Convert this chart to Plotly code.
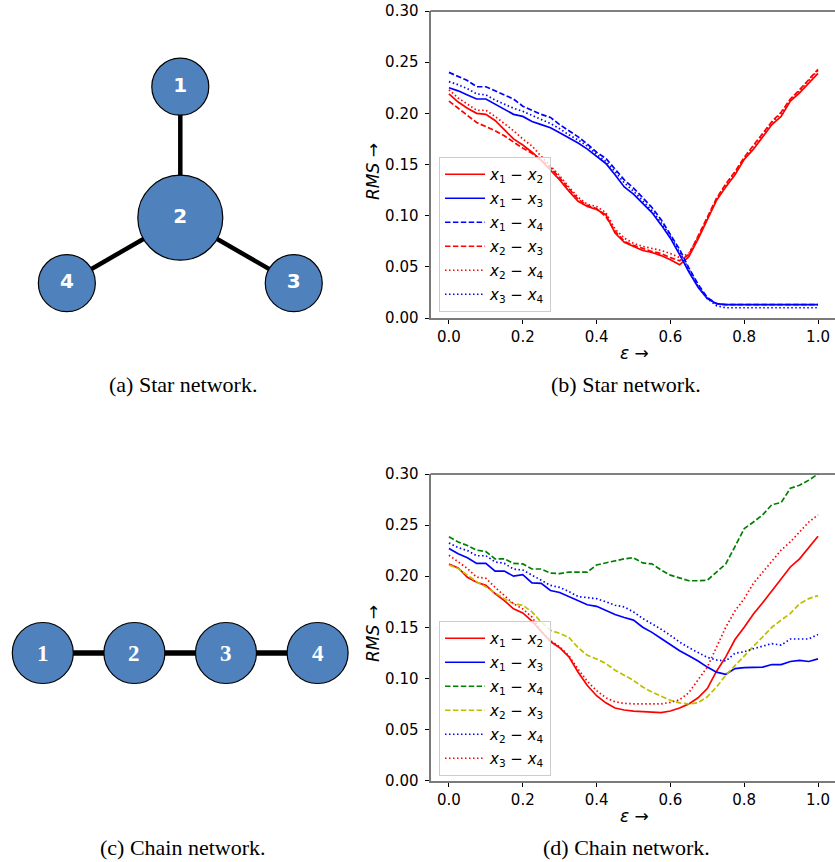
import plotly.graph_objects as go

W, H = 835, 862

eps = [0.0, 0.025, 0.05, 0.075, 0.1, 0.125, 0.15, 0.175, 0.2, 0.225, 0.25, 0.275, 0.3,
       0.325, 0.35, 0.375, 0.4, 0.425, 0.45, 0.475, 0.5, 0.525, 0.55, 0.575, 0.6, 0.625,
       0.65, 0.675, 0.7, 0.725, 0.75, 0.775, 0.8, 0.825, 0.85, 0.875, 0.9, 0.925, 0.95,
       0.975, 1.0]

# (b) Star network
s_x1x2 = [0.219, 0.211, 0.205, 0.200, 0.199, 0.193, 0.184, 0.175, 0.169, 0.162, 0.154, 0.145, 0.135,
          0.124, 0.114, 0.109, 0.106, 0.101, 0.083, 0.074, 0.070, 0.066, 0.064, 0.061, 0.057, 0.052,
          0.060, 0.077, 0.096, 0.115, 0.128, 0.140, 0.155, 0.165, 0.177, 0.189, 0.197, 0.212, 0.220,
          0.229, 0.239]
s_x1x3 = [0.225, 0.222, 0.218, 0.214, 0.214, 0.209, 0.204, 0.199, 0.197, 0.192, 0.189, 0.186, 0.181,
          0.176, 0.171, 0.165, 0.158, 0.151, 0.140, 0.128, 0.121, 0.112, 0.103, 0.091, 0.078, 0.062,
          0.045, 0.030, 0.019, 0.014, 0.013, 0.013, 0.013, 0.013, 0.013, 0.013, 0.013, 0.013, 0.013,
          0.013, 0.013]
s_x1x4 = [0.240, 0.236, 0.232, 0.226, 0.226, 0.222, 0.218, 0.214, 0.207, 0.203, 0.199, 0.196, 0.189,
          0.183, 0.177, 0.170, 0.162, 0.156, 0.146, 0.135, 0.127, 0.117, 0.108, 0.096, 0.082, 0.067,
          0.049, 0.033, 0.020, 0.014, 0.013, 0.013, 0.013, 0.013, 0.013, 0.013, 0.013, 0.013, 0.013,
          0.013, 0.013]
s_x2x3 = [0.212, 0.205, 0.198, 0.191, 0.187, 0.183, 0.178, 0.172, 0.166, 0.161, 0.154, 0.147, 0.137,
          0.126, 0.116, 0.110, 0.107, 0.099, 0.085, 0.075, 0.071, 0.068, 0.065, 0.063, 0.059, 0.056,
          0.062, 0.080, 0.098, 0.117, 0.131, 0.143, 0.157, 0.169, 0.181, 0.192, 0.201, 0.214, 0.223,
          0.233, 0.243]
s_x2x4 = [0.223, 0.215, 0.209, 0.203, 0.203, 0.197, 0.190, 0.183, 0.175, 0.168, 0.158, 0.149, 0.139,
          0.128, 0.118, 0.111, 0.109, 0.103, 0.087, 0.078, 0.073, 0.070, 0.068, 0.066, 0.063, 0.059,
          0.063, 0.079, 0.097, 0.116, 0.130, 0.142, 0.156, 0.168, 0.180, 0.191, 0.200, 0.213, 0.222,
          0.232, 0.242]
s_x3x4 = [0.231, 0.228, 0.224, 0.219, 0.218, 0.213, 0.209, 0.205, 0.202, 0.198, 0.194, 0.190, 0.185,
          0.179, 0.174, 0.168, 0.160, 0.153, 0.143, 0.132, 0.124, 0.114, 0.105, 0.093, 0.080, 0.064,
          0.047, 0.031, 0.019, 0.012, 0.010, 0.010, 0.010, 0.010, 0.010, 0.010, 0.010, 0.010, 0.010,
          0.010, 0.010]

# (d) Chain network
c_x1x2 = [0.212, 0.208, 0.199, 0.194, 0.191, 0.183, 0.176, 0.168, 0.164, 0.156, 0.146, 0.136, 0.130,
          0.121, 0.106, 0.093, 0.083, 0.076, 0.071, 0.069, 0.068, 0.0675, 0.067, 0.0665, 0.068, 0.071,
          0.075, 0.081, 0.090, 0.107, 0.121, 0.138, 0.150, 0.163, 0.174, 0.186, 0.198, 0.209, 0.217,
          0.228, 0.239]
c_x1x3 = [0.227, 0.222, 0.218, 0.2125, 0.2125, 0.205, 0.205, 0.200, 0.2015, 0.1935, 0.193, 0.186, 0.184,
          0.180, 0.176, 0.172, 0.1705, 0.1665, 0.1625, 0.1595, 0.157, 0.150, 0.145, 0.139, 0.133, 0.127,
          0.122, 0.117, 0.111, 0.106, 0.104, 0.1095, 0.1105, 0.1105, 0.111, 0.1135, 0.1135, 0.1165,
          0.1175, 0.1165, 0.119]
c_x1x4 = [0.2385, 0.2335, 0.230, 0.2255, 0.224, 0.217, 0.217, 0.2125, 0.212, 0.207, 0.207, 0.203, 0.2025,
          0.204, 0.204, 0.204, 0.211, 0.213, 0.215, 0.217, 0.218, 0.213, 0.212, 0.206, 0.201, 0.198,
          0.1955, 0.1955, 0.196, 0.204, 0.212, 0.229, 0.2465, 0.253, 0.260, 0.270, 0.272, 0.286, 0.289,
          0.294, 0.300]
c_x2x3 = [0.211, 0.2075, 0.201, 0.1945, 0.1895, 0.1835, 0.178, 0.173, 0.1715, 0.165, 0.155, 0.147, 0.144,
          0.140, 0.130, 0.1225, 0.119, 0.1145, 0.108, 0.103, 0.098, 0.0915, 0.0865, 0.0825, 0.0785, 0.076,
          0.075, 0.076, 0.082, 0.0915, 0.103, 0.1125, 0.122, 0.1305, 0.140, 0.150, 0.157, 0.1635, 0.173,
          0.178, 0.181]
c_x2x4 = [0.2325, 0.228, 0.225, 0.220, 0.220, 0.214, 0.2125, 0.207, 0.206, 0.201, 0.196, 0.191, 0.189,
          0.185, 0.180, 0.179, 0.178, 0.175, 0.1715, 0.170, 0.165, 0.1585, 0.1535, 0.148, 0.142, 0.1355,
          0.130, 0.125, 0.1205, 0.118, 0.117, 0.1245, 0.126, 0.129, 0.1315, 0.134, 0.1325, 0.1385, 0.1385,
          0.1385, 0.143]
c_x3x4 = [0.2205, 0.214, 0.2075, 0.199, 0.198, 0.189, 0.181, 0.173, 0.168, 0.160, 0.146, 0.137, 0.131,
          0.122, 0.109, 0.097, 0.088, 0.081, 0.077, 0.0755, 0.075, 0.075, 0.0745, 0.075, 0.0765, 0.079,
          0.086, 0.099, 0.111, 0.1305, 0.150, 0.166, 0.178, 0.193, 0.204, 0.2155, 0.2255, 0.2335, 0.2435,
          0.253, 0.260]

pair_labels = ["x1-x2", "x1-x3", "x1-x4", "x2-x3", "x2-x4", "x3-x4"]
x_ticks = [0.0, 0.2, 0.4, 0.6, 0.8, 1.0]
x_ticktext = ["0.0", "0.2", "0.4", "0.6", "0.8", "1.0"]
y_ticks = [0.0, 0.05, 0.10, 0.15, 0.20, 0.25, 0.30]
y_ticktext = ["0.00", "0.05", "0.10", "0.15", "0.20", "0.25", "0.30"]

# network diagrams (layout coordinates of nodes)
star_nodes = ["1", "2", "3", "4"]
star_x = [0.0, 0.0, 0.866, -0.866]
star_y = [1.0, 0.0, -0.5, -0.5]
star_size = [57, 85, 57, 57]
star_edges = [(0, 1), (1, 2), (1, 3)]

chain_nodes = ["1", "2", "3", "4"]
chain_x = [0.0, 1.0, 2.0, 3.0]
chain_y = [0.0, 0.0, 0.0, 0.0]
chain_edges = [(0, 1), (1, 2), (2, 3)]

RED, BLUE, GREEN, YEL = "#ff0000", "#0000ff", "#008000", "#bfbf00"
DASH = "5.5px,2.4px"
DOT = "1.5px,2.5px"
LW = 1.7


def lab(s):
    a, b = s.split("-")
    return "<i>x</i><sub>%s</sub> − <i>x</i><sub>%s</sub>" % (a[1], b[1])


fig = go.Figure()

star_series = [s_x1x2, s_x1x3, s_x1x4, s_x2x3, s_x2x4, s_x3x4]
star_style = [(RED, "solid"), (BLUE, "solid"), (BLUE, DASH), (RED, DASH), (RED, DOT), (BLUE, DOT)]
for name, ys, (c, d) in zip(pair_labels, star_series, star_style):
    fig.add_trace(go.Scatter(x=eps, y=ys, mode="lines", name=lab(name), legend="legend",
                             line=dict(color=c, width=LW, dash=d), xaxis="x", yaxis="y",
                             legendgroup="s" + name))

chain_series = [c_x1x2, c_x1x3, c_x1x4, c_x2x3, c_x2x4, c_x3x4]
chain_style = [(RED, "solid"), (BLUE, "solid"), (GREEN, DASH), (YEL, DASH), (BLUE, DOT), (RED, DOT)]
for name, ys, (c, d) in zip(pair_labels, chain_series, chain_style):
    fig.add_trace(go.Scatter(x=eps, y=ys, mode="lines", name=lab(name), legend="legend2",
                             line=dict(color=c, width=LW, dash=d), xaxis="x2", yaxis="y2",
                             legendgroup="c" + name))

NODE = "#4f81bd"
# star edges and nodes
for a, b in star_edges:
    fig.add_trace(go.Scatter(x=[star_x[a], star_x[b]], y=[star_y[a], star_y[b]], mode="lines",
                             line=dict(color="black", width=4.5), showlegend=False,
                             xaxis="x3", yaxis="y3", hoverinfo="skip"))
fig.add_trace(go.Scatter(x=star_x, y=star_y, mode="markers+text",
                         text=["<b>%s</b>" % n for n in star_nodes],
                         textposition="middle center",
                         textfont=dict(family="DejaVu Sans", size=20, color="white"),
                         marker=dict(size=star_size, color=NODE, opacity=1,
                                     line=dict(color="black", width=1.2)),
                         showlegend=False, xaxis="x3", yaxis="y3", cliponaxis=False))
# chain edges and nodes
for a, b in chain_edges:
    fig.add_trace(go.Scatter(x=[chain_x[a], chain_x[b]], y=[chain_y[a], chain_y[b]], mode="lines",
                             line=dict(color="black", width=5.5), showlegend=False,
                             xaxis="x4", yaxis="y4", hoverinfo="skip"))
fig.add_trace(go.Scatter(x=chain_x, y=chain_y, mode="markers",
                         marker=dict(size=61, color=NODE, opacity=1, line=dict(color="black", width=1.2)),
                         showlegend=False, xaxis="x4", yaxis="y4", cliponaxis=False))
for n, cx, cy in zip(chain_nodes, chain_x, chain_y):
    fig.add_annotation(x=cx, y=cy, xref="x4", yref="y4", text="<b>%s</b>" % n, showarrow=False,
                       font=dict(family="Liberation Serif", size=23, color="white"),
                       xanchor="center", yanchor="middle")


def px_x(p):
    return p / W


def px_y(p):
    return 1 - p / H


tickfont = dict(family="DejaVu Sans", size=15, color="black")
common_x = dict(range=[-0.05, 1.046], tickvals=x_ticks, ticktext=x_ticktext, ticks="outside",
                ticklen=4, tickcolor="black", showline=True, linecolor="#7a7a7a", linewidth=2,
                showgrid=False, zeroline=False, tickfont=tickfont, domain=[px_x(430.5), 1.0],
                automargin=False)
common_y = dict(range=[0, 0.30], tickvals=y_ticks, ticktext=y_ticktext, ticks="outside",
                ticklen=4, tickcolor="black", showline=True, linecolor="#7a7a7a", linewidth=2,
                showgrid=False, zeroline=False, tickfont=tickfont, ticklabelstandoff=3,
                automargin=False)

hidden = dict(visible=False, showgrid=False, zeroline=False, fixedrange=True, automargin=False)

legend_common = dict(font=dict(family="DejaVu Sans", size=15, color="black"),
                     bgcolor="rgba(255,255,255,0.8)", bordercolor="#cccccc", borderwidth=1,
                     xanchor="left", yanchor="top", tracegroupgap=1.5, itemwidth=40)

fig.update_layout(
    width=W, height=H, margin=dict(l=0, r=0, t=0, b=0, pad=0, autoexpand=False),
    paper_bgcolor="white", plot_bgcolor="white",
    showlegend=True,
    xaxis=dict(common_x, anchor="y"),
    yaxis=dict(common_y, anchor="x", domain=[px_y(318), px_y(11)]),
    xaxis2=dict(common_x, anchor="y2"),
    yaxis2=dict(common_y, anchor="x2", domain=[px_y(780.5), px_y(474)]),
    xaxis3=dict(hidden, domain=[0, px_x(360)], range=[-180.3 / 131, (360 - 180.3) / 131], anchor="y3"),
    yaxis3=dict(hidden, domain=[px_y(340), px_y(40)], range=[(217.7 - 340) / 131, (217.7 - 40) / 131],
                anchor="x3"),
    xaxis4=dict(hidden, domain=[0, px_x(360)], range=[-42.8 / 91.6, (360 - 42.8) / 91.6], anchor="y4"),
    yaxis4=dict(hidden, domain=[px_y(710), px_y(600)], range=[-57 / 91.6, 53 / 91.6], anchor="x4"),
    legend=dict(legend_common, x=px_x(439), y=px_y(157)),
    legend2=dict(legend_common, x=px_x(439), y=px_y(621)),
)

# top spines
for xr, yr in [("x", "y"), ("x2", "y2")]:
    fig.add_shape(type="line", xref=xr + " domain", yref=yr + " domain",
                  x0=0, x1=1, y0=1, y1=1, line=dict(color="black", width=1))

ann_font = dict(family="DejaVu Sans", size=17, color="black")
cap_font = dict(family="Liberation Serif", size=22, color="black")
annos = [
    dict(x=px_x(373), y=px_y(172), text="<i>RMS</i> →", textangle=-90, font=ann_font),
    dict(x=px_x(373), y=px_y(634), text="<i>RMS</i> →", textangle=-90, font=ann_font),
    dict(x=px_x(634), y=px_y(353), text="<i>ε</i> →", font=ann_font),
    dict(x=px_x(634), y=px_y(816), text="<i>ε</i> →", font=ann_font),
    dict(x=px_x(183), y=px_y(384), text="(a) Star network.", font=cap_font),
    dict(x=px_x(626), y=px_y(384), text="(b) Star network.", font=cap_font),
    dict(x=px_x(183), y=px_y(847), text="(c) Chain network.", font=cap_font),
    dict(x=px_x(626), y=px_y(847), text="(d) Chain network.", font=cap_font),
]
for a in annos:
    fig.add_annotation(xref="paper", yref="paper", showarrow=False, xanchor="center",
                       yanchor="middle", **a)

fig.write_html("out.html", config={"displayModeBar": False},
               post_script="document.body.style.margin='0px';")
